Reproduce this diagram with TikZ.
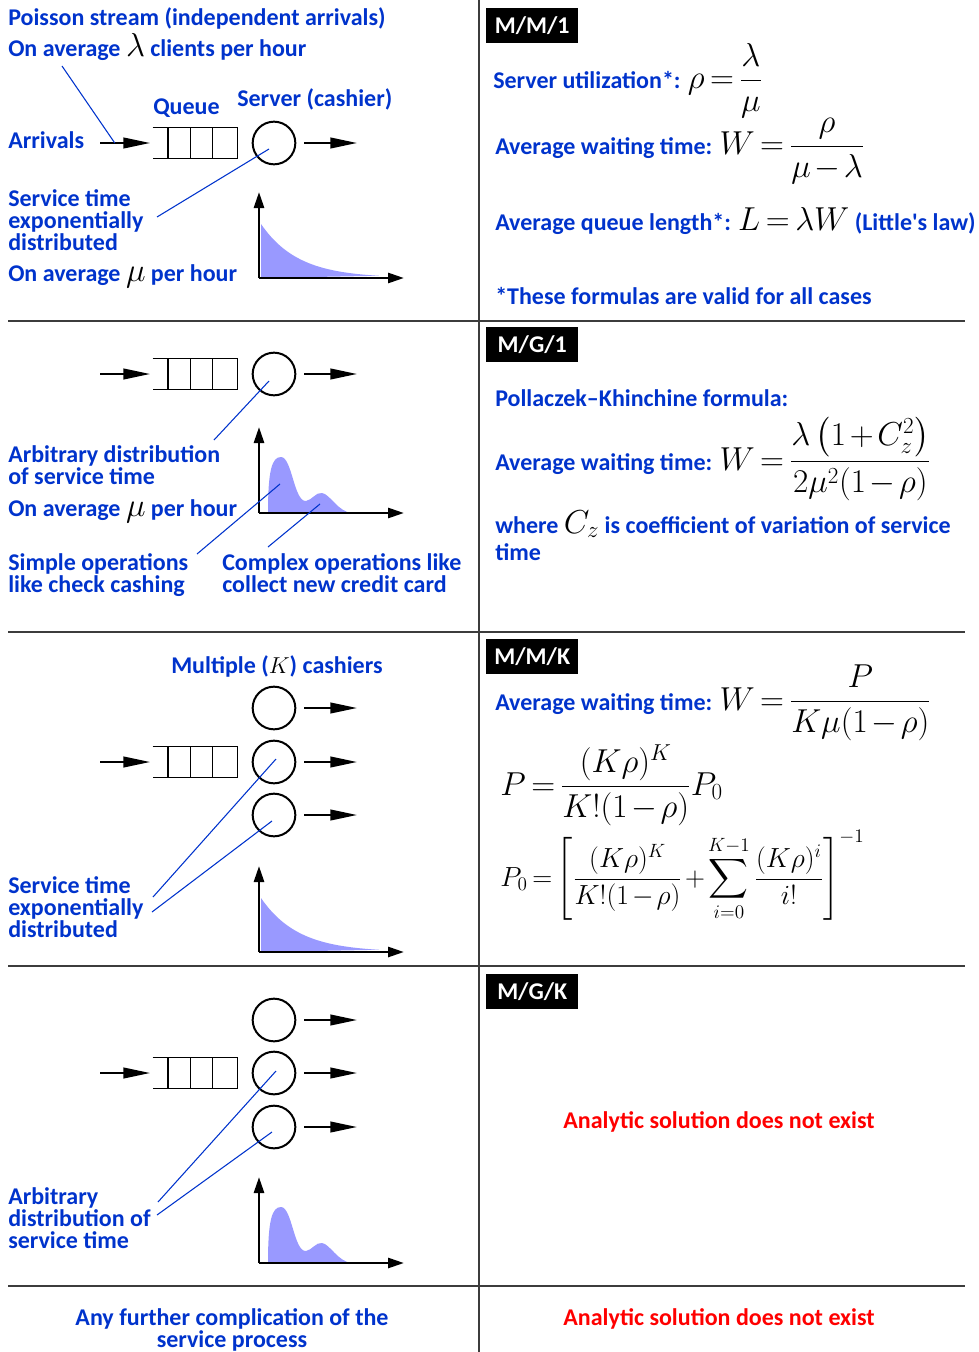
\documentclass[tikz,border=0pt]{standalone}
\usepackage[no-math]{fontspec}
\setmainfont{Carlito}[Ligatures=TeXOff]
\usepackage{amsmath}
\usepackage{tikz}
\usetikzlibrary{arrows.meta, positioning, calc}

\definecolor{txtblue}{RGB}{0,51,204}
\definecolor{distfill}{RGB}{153,153,255}
\definecolor{rulegray}{RGB}{60,60,60}

\newcommand{\qmath}[2][24]{{\fontsize{#1}{26}\selectfont
  \thickmuskip=3mu\medmuskip=2mu$\displaystyle #2$}}

\begin{document}
\begin{tikzpicture}[x=0.75pt, y=-0.75pt,
  txt/.style={anchor=base west, inner sep=0pt, align=left,
              font=\fontsize{18}{16.5}\selectfont\bfseries, text=txtblue},
  formula/.style={anchor=base west, inner sep=0pt,
              font=\fontsize{18}{16.5}\selectfont\bfseries, text=black},
  redtxt/.style={anchor=base, inner sep=0pt,
              font=\fontsize{18}{16.5}\selectfont\bfseries, text=red},
  tag/.style={anchor=north west, fill=black, text=white, inner sep=0pt,
              minimum width=69pt, minimum height=26pt,
              font=\fontsize{18}{18}\selectfont\bfseries},
  queue/.style={minimum width=63pt, minimum height=23pt, inner sep=0pt},
  qline/.style={line width=1pt},
  server/.style={circle, draw, line width=1.5pt, minimum size=32pt, inner sep=0pt},
  flow/.style={-{Triangle[length=20pt,width=8pt]}, line width=1.5pt},
  axis/.style={-{Triangle[length=12pt,width=7.5pt]}, line width=2pt},
  pointer/.style={txtblue, line width=0.8pt},
  dist/.style={fill=distfill},
  sep/.style={rulegray, line width=1pt}
]
\useasboundingbox (0,0) rectangle (978,1352);

% grid
\draw[sep] (479,0) -- (479,1352);
\foreach \y in {321,632,966,1286}
  \draw[sep] (8,\y) -- (965,\y);

% ---- M/M/1 ----
\node[txt] (poisson) at (8,26) {Poisson stream (independent arrivals)};
\node[txt] (lamavg) at (8,57) {On average \textcolor{black}{\qmath{\lambda}} clients per hour};
\node[txt] (arrlbl) at (8,149) {Arrivals};
\node[txt] (qlbl) at (153,115) {Queue};
\node[txt] (slbl) at (237,107) {Server (cashier)};
% multi-line texts sit on their last baseline
\node[txt] (exp1) at (8,250) {Service time\\exponentially\\distributed};
\node[txt] (muavg1) at (8,281) {On average \textcolor{black}{\qmath{\mu}} per hour};

\node[queue] (q1) at (195,143) {};
\node[server] (s1) at (274,143) {};
\coordinate (in1) at (100,143);
\coordinate (out1) at (357,143);
\draw[flow, shorten >=2pt] (in1) -- (q1.west);
\draw[flow, shorten <=6pt] (s1) -- (out1);

\coordinate (g1) at (259,278);
\begin{scope}[shift={(g1)}]
  \fill[dist] (2,0) -- plot[domain=0:118, samples=50] ({2+\x},{-54*exp(-0.027*\x)}) -- cycle;
\end{scope}
\draw[axis] (g1) -- ++(0,-86);
\draw[axis] (g1) -- ++(145,0);

\coordinate (p1a) at (62,66);
\coordinate (p1b) at (157,217);
\draw[pointer] (p1a) -- ($(in1)!0.28!(q1.west)$);
\draw[pointer] (p1b) -- ($(s1.center)+(-5,6)$);

\node[tag] (mm1) at (486,8) {M/M/1};
\node[formula] (rho) at (493,89) {\textcolor{txtblue}{Server utilization*:} \qmath{\rho = \frac{\lambda}{\mu}}};
\node[formula] (mm1w) at (495,155) {\textcolor{txtblue}{Average waiting time:} \qmath{W = \frac{\rho}{\mu-\lambda}}};
\node[formula] (little) at (495,230) {\textcolor{txtblue}{Average queue length*:} \qmath{L = \lambda W}\ \textcolor{txtblue}{(Little's law)}};
\node[txt] (allcases) at (495,304) {*These formulas are valid for all cases};

% ---- M/G/1 ----
\node[queue] (q2) at (195,374) {};
\node[server] (s2) at (274,374) {};
\coordinate (in2) at (100,374);
\coordinate (out2) at (357,374);
\draw[flow, shorten >=2pt] (in2) -- (q2.west);
\draw[flow, shorten <=6pt] (s2) -- (out2);

\coordinate (g2) at (259,513);
\begin{scope}[shift={(g2)}]
  \fill[dist] (9,0) .. controls (9,-43) and (13,-56) .. (22,-56)
    .. controls (33,-56) and (35,-11) .. (47,-12)
    .. controls (53,-13) and (57,-21) .. (63,-20)
    .. controls (71,-19) and (79,-1) .. (93,0) -- cycle;
\end{scope}
\draw[axis] (g2) -- ++(0,-86);
\draw[axis] (g2) -- ++(145,0);

\node[txt] (arb2) at (8,484) {Arbitrary distribution\\of service time};
\node[txt] (muavg2) at (8,516) {On average \textcolor{black}{\qmath{\mu}} per hour};
\node[txt] (simple) at (8,592) {Simple operations\\like check cashing};
\node[txt] (complex) at (222,592) {Complex operations like\\collect new credit card};

\coordinate (p2a) at (214,440);
\coordinate (p2b) at (197,554);
\coordinate (p2c) at (268,547);
\draw[pointer] (p2a) -- ($(s2.center)+(-5,7)$);
\draw[pointer] (p2b) -- ($(g2)+(21,-29)$);
\draw[pointer] (p2c) -- ($(g2)+(61,-9)$);

\node[tag] (mg1) at (486,327) {M/G/1};
\node[txt] (pk) at (495,406) {Pollaczek–Khinchine formula:};
\node[formula] (mg1w) at (495,470) {\textcolor{txtblue}{Average waiting time:} \qmath{W = \frac{\lambda\left(1+C_z^2\right)}{2\mu^2(1-\rho)}}};
\node[txt] (where) at (495,533) {where \textcolor{black}{\qmath{C_z}} is coefficient of variation of service};
\node[txt] (wtime) at (495,560) {time};

% ---- M/M/K ----
\node[txt] (multi) at (171,673) {Multiple (\textcolor{black}{$K$}) cashiers};
\node[queue] (q3) at (195,762) {};
\coordinate (in3) at (100,762);
\draw[flow, shorten >=2pt] (in3) -- (q3.west);
\foreach \n/\y in {a/708,b/762,c/815} {
  \node[server] (s3\n) at (274,\y) {};
  \coordinate (out3\n) at (357,\y);
  \draw[flow, shorten <=6pt] (s3\n) -- (out3\n);
}

\coordinate (g3) at (259,952);
\begin{scope}[shift={(g3)}]
  \fill[dist] (2,0) -- plot[domain=0:118, samples=50] ({2+\x},{-54*exp(-0.027*\x)}) -- cycle;
\end{scope}
\draw[axis] (g3) -- ++(0,-86);
\draw[axis] (g3) -- ++(145,0);

\node[txt] (exp3) at (8,937) {Service time\\exponentially\\distributed};
\coordinate (p3a) at (153,897);
\coordinate (p3b) at (152,912);
\draw[pointer] (p3a) -- ($(s3b.center)+(2,-3)$);
\draw[pointer] (p3b) -- ($(s3c.center)+(-2,6)$);

\node[tag] (mmk) at (486,639) {M/M/K};
\node[formula] (mmkw) at (495,710) {\textcolor{txtblue}{Average waiting time:} \qmath{W = \frac{P}{K\mu(1-\rho)}}};
\node[formula] (pform) at (500,795) {\qmath{P = \frac{(K\rho)^K}{K!(1-\rho)}P_0}};
\node[formula] (p0form) at (500,886) {\qmath[22]{P_0 = \left[\frac{(K\rho)^K}{K!(1-\rho)} + \sum_{i=0}^{K-1}\frac{(K\rho)^i}{i!}\right]^{-1}}};

% ---- M/G/K ----
\node[queue] (q4) at (195,1073) {};
\coordinate (in4) at (100,1073);
\draw[flow, shorten >=2pt] (in4) -- (q4.west);
\foreach \n/\y in {a/1020,b/1073,c/1127} {
  \node[server] (s4\n) at (274,\y) {};
  \coordinate (out4\n) at (357,\y);
  \draw[flow, shorten <=6pt] (s4\n) -- (out4\n);
}

\coordinate (g4) at (259,1263);
\begin{scope}[shift={(g4)}]
  \fill[dist] (9,0) .. controls (9,-43) and (13,-56) .. (22,-56)
    .. controls (33,-56) and (35,-11) .. (47,-12)
    .. controls (53,-13) and (57,-21) .. (63,-20)
    .. controls (71,-19) and (79,-1) .. (93,0) -- cycle;
\end{scope}
\draw[axis] (g4) -- ++(0,-86);
\draw[axis] (g4) -- ++(145,0);

\node[txt] (arb4) at (8,1248) {Arbitrary\\distribution of\\service time};
\coordinate (p4a) at (158,1202);
\coordinate (p4b) at (157,1215);
\draw[pointer] (p4a) -- ($(s4b.center)+(2,-2)$);
\draw[pointer] (p4b) -- ($(s4c.center)+(-2,5)$);

\node[tag] (mgk) at (486,974) {M/G/K};
\node[redtxt] (nosol1) at (719,1128) {Analytic solution does not exist};

% queue outlines (open on the left)
\foreach \q in {q1,q2,q3,q4} {
  \draw[qline] (\q.north west) -- (\q.north east) -- (\q.south east) -- (\q.south west);
  \foreach \f in {0.18,0.45,0.71}
    \draw[qline] ($(\q.north west)!\f!(\q.north east)$) -- ($(\q.south west)!\f!(\q.south east)$);
}

% ---- further ----
\node[txt, anchor=base, align=center] (further) at (232,1347) {Any further complication of the\\service process};
\node[redtxt] (nosol2) at (719,1325) {Analytic solution does not exist};
\end{tikzpicture}
\end{document}
